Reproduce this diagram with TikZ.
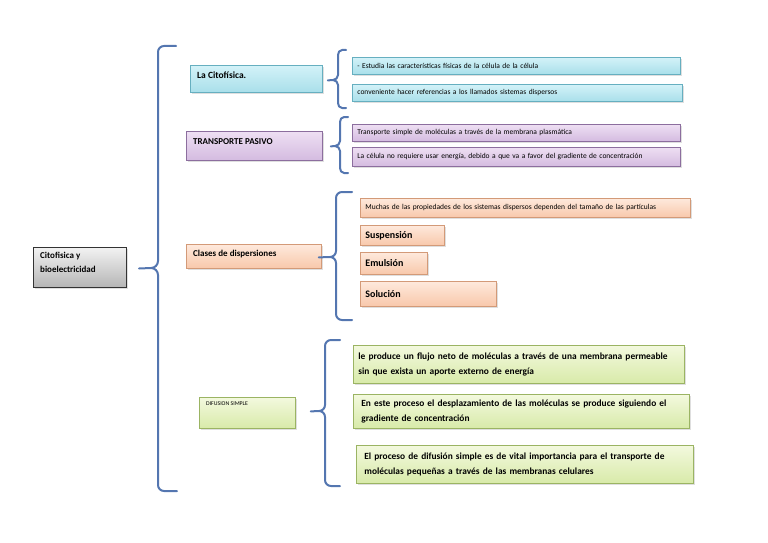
\documentclass[tikz,border=0pt]{standalone}
\usepackage{fontspec}
\setmainfont{Carlito}
\usetikzlibrary{shadows,calc}
\definecolor{brc}{HTML}{5476B0}
\definecolor{bluetop}{HTML}{D3F2F8}
\definecolor{bluebot}{HTML}{A9DFEA}
\definecolor{blueln}{HTML}{66AFC0}
\definecolor{purtop}{HTML}{EEDFF3}
\definecolor{purbot}{HTML}{D4BBE0}
\definecolor{purln}{HTML}{8C6E9E}
\definecolor{pchtop}{HTML}{FEE9DC}
\definecolor{pchbot}{HTML}{F8C8AB}
\definecolor{pchln}{HTML}{D39A78}
\definecolor{grntop}{HTML}{F3F9DE}
\definecolor{grnbot}{HTML}{D8EAA9}
\definecolor{grnln}{HTML}{9BB463}
\definecolor{graytop}{HTML}{F2F2F2}
\definecolor{graybot}{HTML}{B5B5B5}
\tikzset{
  boxbase/.style={rectangle, inner xsep=5pt, inner ysep=0pt, anchor=north west, align=left,
    line width=0.8pt, drop shadow={opacity=0.25, shadow xshift=1.2pt, shadow yshift=-1.2pt}},
  bluebox/.style={boxbase, draw=blueln, top color=bluetop, bottom color=bluebot},
  purbox/.style={boxbase, draw=purln, top color=purtop, bottom color=purbot},
  pchbox/.style={boxbase, draw=pchln, top color=pchtop, bottom color=pchbot},
  grnbox/.style={boxbase, draw=grnln, top color=grntop, bottom color=grnbot},
  graybox/.style={boxbase, draw=black!80, line width=1pt, top color=graytop, bottom color=graybot},
  lbl/.style={anchor=north west, inner sep=0pt, align=left},
  small/.style={font=\fontsize{7.5}{9}\selectfont},
  bold/.style={font=\fontsize{9}{14}\selectfont\bfseries},
  grntxt/.style={font=\fontsize{9.4}{15}\selectfont\bfseries},
  brace/.style={draw=brc, line width=2pt, line cap=round, line join=round},
}
\begin{document}
\begin{tikzpicture}[x=1pt,y=-1pt]
\useasboundingbox (0,0) rectangle (768,543);
% main
\node[graybox, minimum width=93pt, minimum height=40pt] (main) at (33,247) {};
\node[lbl, bold] (maint) at (40,252) {Citofisica y\\bioelectricidad};
% left column boxes
\node[bluebox, minimum width=132pt, minimum height=27pt] (cito) at (190,65) {};
\node[lbl, font=\fontsize{9.5}{11}\selectfont\bfseries] (citot) at (197,72) {La Citofísica.};
\node[purbox, minimum width=136pt, minimum height=29pt] (trans) at (186,131) {};
\node[lbl, font=\fontsize{9}{11}\selectfont\bfseries] (transt) at (193,138) {TRANSPORTE PASIVO};
\node[pchbox, minimum width=135pt, minimum height=24pt] (cls) at (186,244) {};
\node[lbl, font=\fontsize{9}{11}\selectfont\bfseries] (clst) at (193,250) {Clases de dispersiones};
\node[grnbox, minimum width=96pt, minimum height=31pt] (dif) at (199,397) {};
\node[lbl, font=\fontsize{5.8}{7}\selectfont] (dift) at (206,402) {DIFUSION SIMPLE};
% right boxes: citofisica
\node[bluebox, small, text width=318pt, minimum height=17pt] (c1) at (352,57) {- Estudia las características físicas de la célula de la célula};
\node[bluebox, small, text width=320pt, minimum height=17pt] (c2) at (352,84) {conveniente hacer referencias a los llamados sistemas dispersos};
% transporte
\node[purbox, small, text width=318pt, minimum height=17pt] (t1) at (352,124) {Transporte simple de moléculas a través de la membrana plasmática};
\node[purbox, small, text width=318pt, minimum height=19pt] (t2) at (352,147) {La célula no requiere usar energía, debido a que va a favor del gradiente de concentración};
% dispersiones
\node[pchbox, small, text width=320pt, minimum height=19pt] (d1) at (360,198) {Muchas de las propiedades de los sistemas dispersos dependen del tamaño de las partículas};
\node[pchbox, font=\fontsize{10}{11}\selectfont\bfseries, text width=74pt, minimum height=20pt] (d2) at (360,225) {Suspensión};
\node[pchbox, font=\fontsize{10}{11}\selectfont\bfseries, text width=57pt, minimum height=22pt] (d3) at (360,252) {Emulsión};
\node[pchbox, font=\fontsize{10}{11}\selectfont\bfseries, text width=126pt, minimum height=25pt] (d4) at (360,281) {Solución};
% difusion
\node[grnbox, grntxt, text width=321pt, minimum height=38pt] (g1) at (353,345) {le produce un flujo neto de moléculas a través de una membrana permeable\\sin que exista un aporte externo de energía};
\node[grnbox, grntxt, text width=320pt, minimum height=34pt, inner xsep=8pt] (g2) at (353,394) {En este proceso el desplazamiento de las moléculas se produce siguiendo el\\gradiente de concentración};
\node[grnbox, grntxt, text width=321pt, minimum height=38pt, inner xsep=8pt] (g3) at (356,445) {El proceso de difusión simple es de vital importancia para el transporte de\\moléculas pequeñas a través de las membranas celulares};
% braces
\coordinate (b0) at ($(main.east)+(12,1)$);
\draw[brace] (b0) -- (151,268) to[out=0,in=90] (158,275) -- (158,485) to[out=-90,in=180] (164,491) -- (177,491);
\draw[brace] (151,268) to[out=0,in=-90] (158,261) -- (158,52) to[out=90,in=180] (164,46) -- (176,46);
\coordinate (b1) at ($(cito.east)+(5,1.5)$);
\draw[brace] (b1) -- (333,80) to[out=0,in=90] (338,85) -- (338,103) to[out=-90,in=180] (342,108) -- (346,108);
\draw[brace] (333,80) to[out=0,in=-90] (338,75) -- (338,55) to[out=90,in=180] (342,50) -- (346,50);
\coordinate (b2) at ($(trans.east)+(8,0.5)$);
\draw[brace] (b2) -- (335,146) to[out=0,in=90] (340,151) -- (340,168) to[out=-90,in=180] (344,173) -- (348,173);
\draw[brace] (335,146) to[out=0,in=-90] (340,141) -- (340,122) to[out=90,in=180] (344,117) -- (348,117);
\coordinate (b3) at ($(cls.east)+(-3,1)$);
\draw[brace] (b3) -- (330,257) to[out=0,in=90] (336,263) -- (336,314) to[out=-90,in=180] (342,320) -- (352,320);
\draw[brace] (330,257) to[out=0,in=-90] (336,251) -- (336,198) to[out=90,in=180] (342,192) -- (352,192);
\coordinate (b4) at ($(dif.east)+(15,-1.5)$);
\draw[brace] (b4) -- (319,411) to[out=0,in=90] (325,417) -- (325,480) to[out=-90,in=180] (331,486) -- (340,486);
\draw[brace] (319,411) to[out=0,in=-90] (325,405) -- (325,346) to[out=90,in=180] (331,340) -- (340,340);
\end{tikzpicture}
\end{document}
